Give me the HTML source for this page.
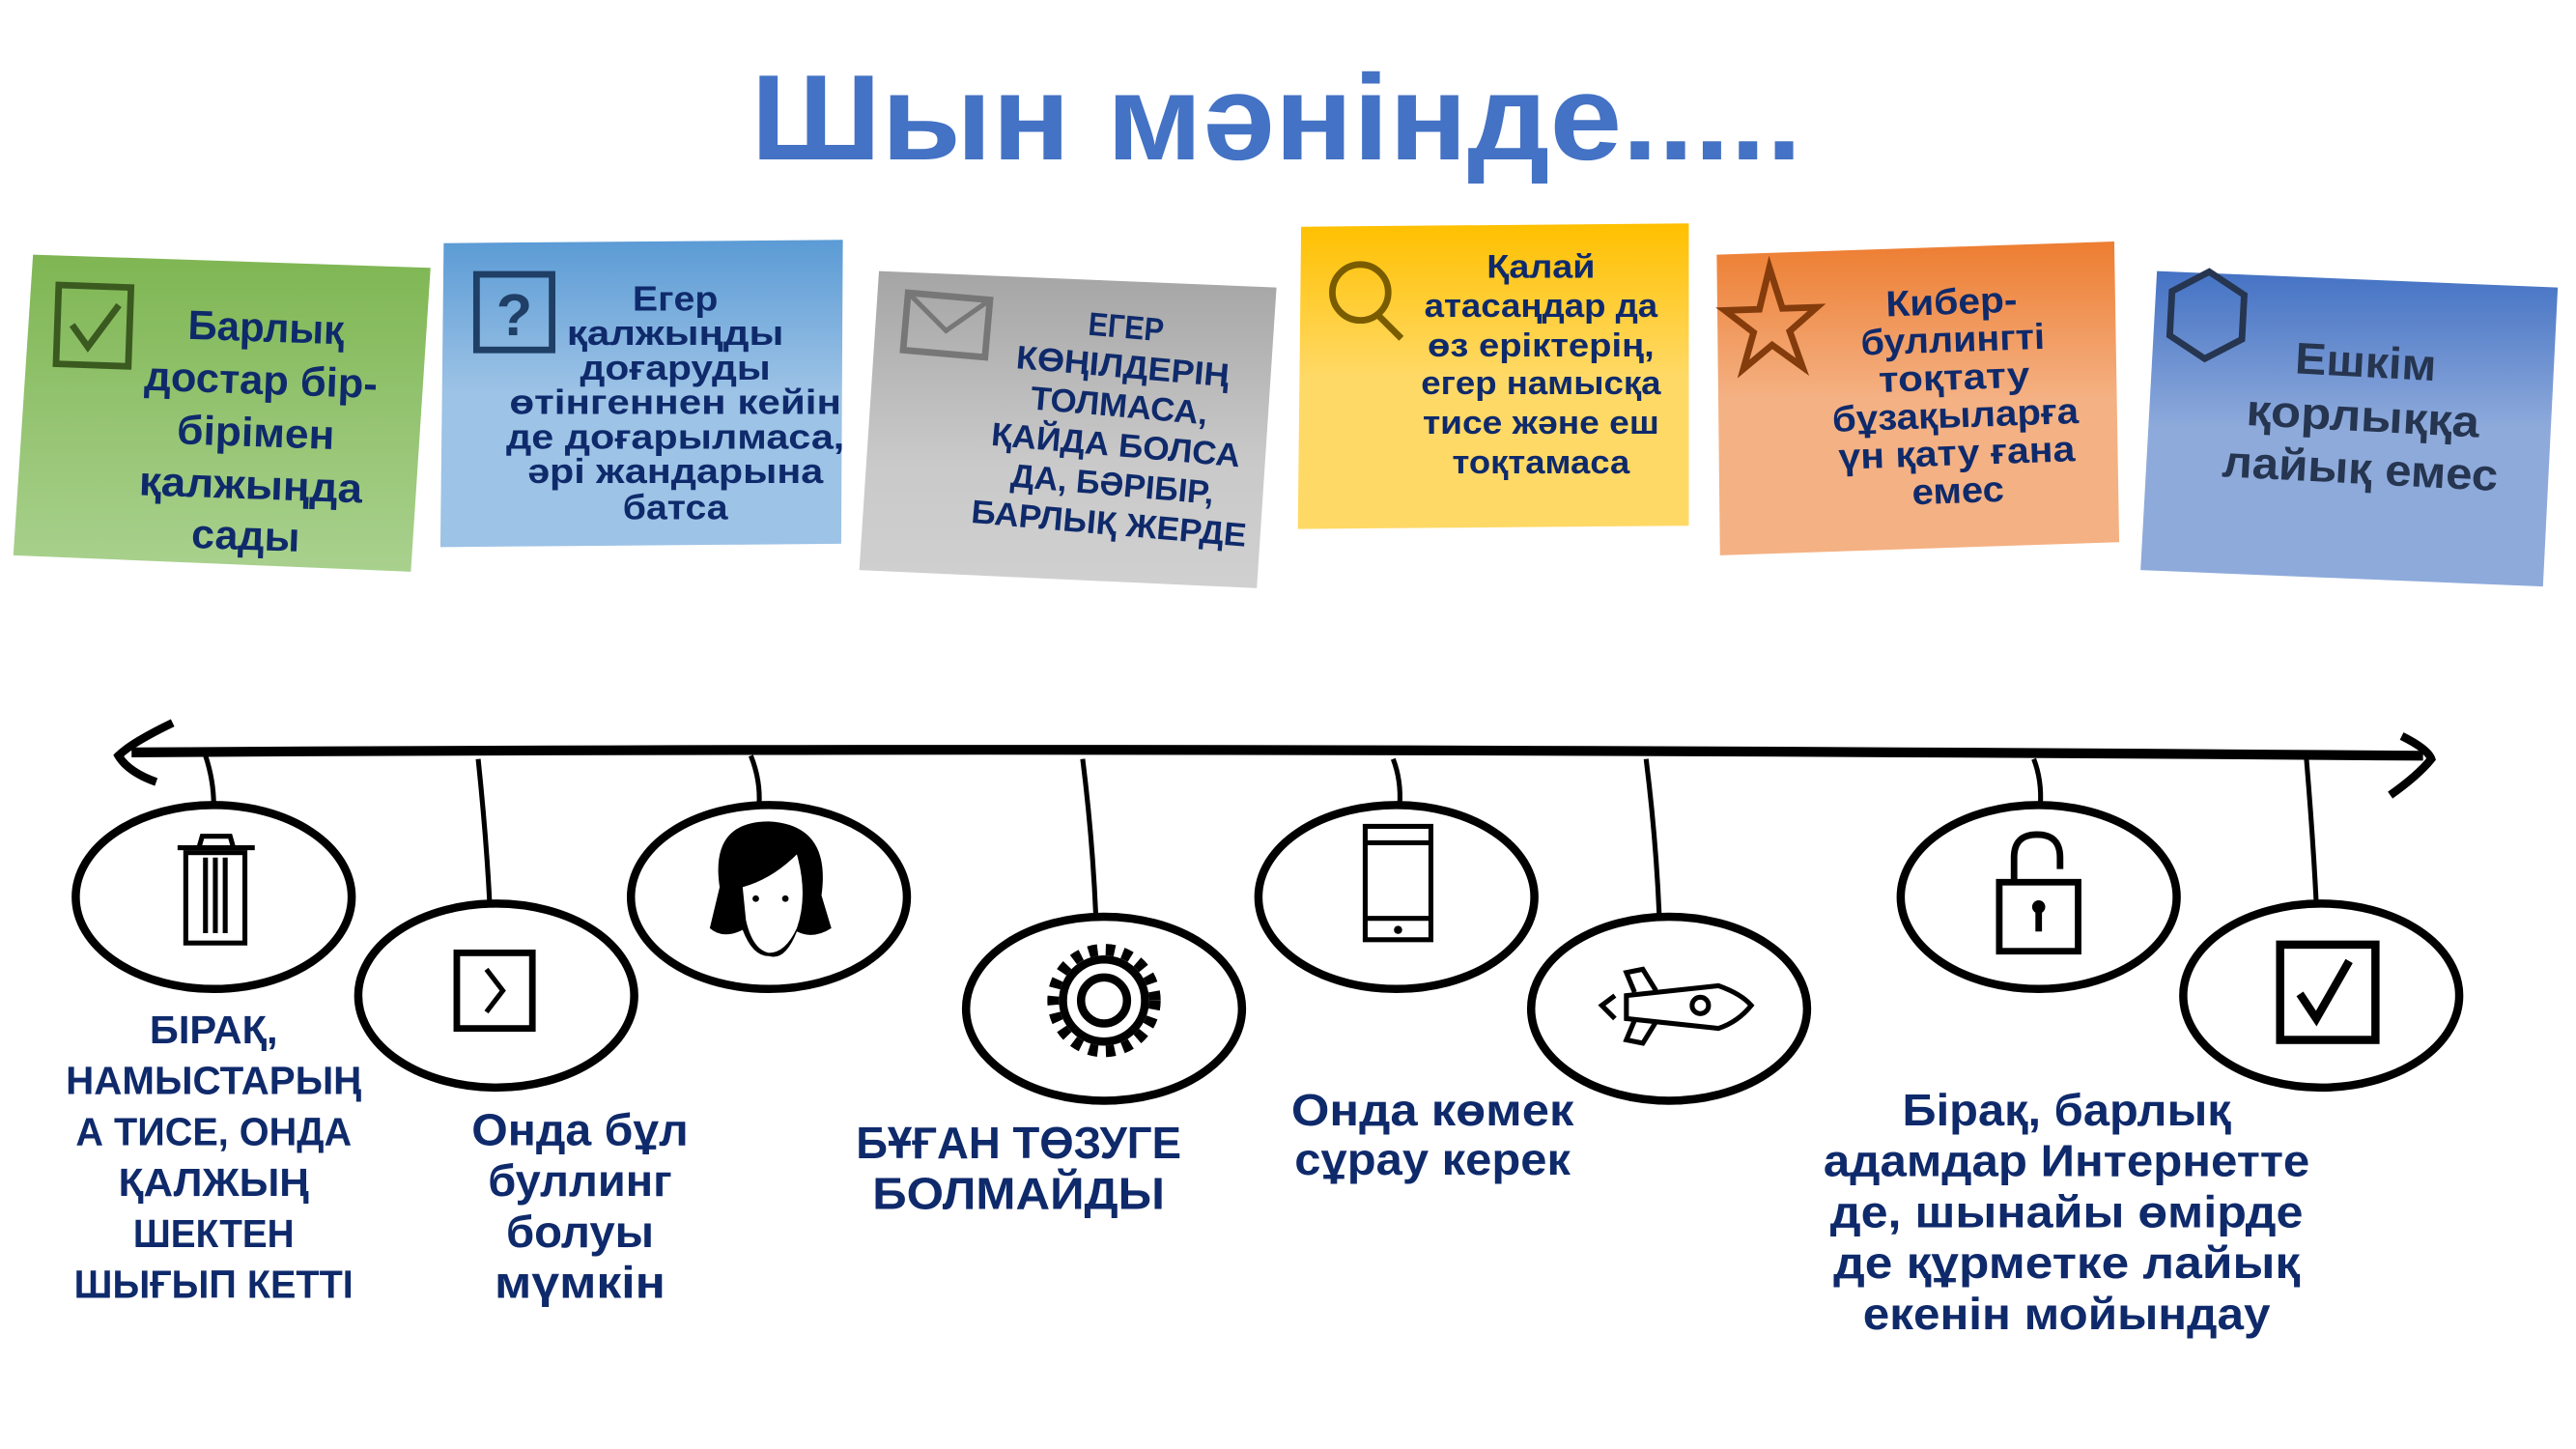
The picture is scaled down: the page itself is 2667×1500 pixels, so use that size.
<!DOCTYPE html>
<html><head><meta charset="utf-8"><style>
html,body{margin:0;padding:0;background:#fff;}
svg{display:block;}
text{font-family:"Liberation Sans","DejaVu Sans",sans-serif;font-weight:bold;text-anchor:middle;}
.n{fill:#0f2a6b;}
</style></head><body>
<svg width="2667" height="1500" viewBox="0 0 1568 882" xmlns="http://www.w3.org/2000/svg">
<defs>
<linearGradient id="g1" x1="0" y1="0" x2="0" y2="1"><stop offset="0" stop-color="#7fb653"/><stop offset="1" stop-color="#a9d18e"/></linearGradient>
<linearGradient id="g2" x1="0" y1="0" x2="0" y2="1"><stop offset="0" stop-color="#5b9bd5"/><stop offset="0.5" stop-color="#9dc3e6"/><stop offset="1" stop-color="#9dc3e6"/></linearGradient>
<linearGradient id="g3" x1="0" y1="0" x2="0" y2="1"><stop offset="0" stop-color="#a5a5a5"/><stop offset="0.6" stop-color="#c9c9c9"/><stop offset="1" stop-color="#d0d0d0"/></linearGradient>
<linearGradient id="g4" x1="0" y1="0" x2="0" y2="1"><stop offset="0" stop-color="#ffc000"/><stop offset="0.5" stop-color="#ffd966"/><stop offset="1" stop-color="#ffd966"/></linearGradient>
<linearGradient id="g5" x1="0" y1="0" x2="0" y2="1"><stop offset="0" stop-color="#ed7d31"/><stop offset="0.5" stop-color="#f4b183"/><stop offset="1" stop-color="#f4b183"/></linearGradient>
<linearGradient id="g6" x1="0" y1="0" x2="0" y2="1"><stop offset="0" stop-color="#4472c4"/><stop offset="0.5" stop-color="#8eaadb"/><stop offset="1" stop-color="#8eaadb"/></linearGradient>
</defs>

<text x="777" y="97" font-size="74" fill="#4472c4" textLength="640" lengthAdjust="spacingAndGlyphs">Шын мәнінде.....</text>

<polygon points="20,155 262,163 250,348 8,338" fill="url(#g1)"/>
<g transform="rotate(2 135 252)">
<rect x="33" y="177" width="44" height="48" fill="none" stroke="#3a5a20" stroke-width="4"/>
<polyline points="42,201 52,214 70,188" fill="none" stroke="#3a5a20" stroke-width="4"/>
<g class="n" font-size="25">
<text x="160" y="207" textLength="95" lengthAdjust="spacingAndGlyphs">Барлық</text>
<text x="158" y="239" textLength="142" lengthAdjust="spacingAndGlyphs">достар бір-</text>
<text x="156" y="271" textLength="96" lengthAdjust="spacingAndGlyphs">бірімен</text>
<text x="154" y="303" textLength="136" lengthAdjust="spacingAndGlyphs">қалжыңда</text>
<text x="152" y="334" textLength="66" lengthAdjust="spacingAndGlyphs">сады</text>
</g></g>

<polygon points="270,148 513,146 512,331 268,333" fill="url(#g2)"/>
<rect x="290" y="167" width="46" height="46" fill="none" stroke="#1f3f66" stroke-width="4"/>
<text x="313" y="204" font-size="36" fill="#1f3f66">?</text>
<g class="n" font-size="21">
<text x="411" y="189" textLength="52" lengthAdjust="spacingAndGlyphs">Егер</text>
<text x="411" y="210" textLength="132" lengthAdjust="spacingAndGlyphs">қалжыңды</text>
<text x="411" y="231" textLength="116" lengthAdjust="spacingAndGlyphs">доғаруды</text>
<text x="411" y="252" textLength="202" lengthAdjust="spacingAndGlyphs">өтінгеннен кейін</text>
<text x="411" y="273" textLength="206" lengthAdjust="spacingAndGlyphs">де доғарылмаса,</text>
<text x="411" y="294" textLength="180" lengthAdjust="spacingAndGlyphs">әрі жандарына</text>
<text x="411" y="316" textLength="64" lengthAdjust="spacingAndGlyphs">батса</text>
</g>

<polygon points="535,165 777,175 765,358 523,347" fill="url(#g3)"/>
<g transform="rotate(5 650 260)">
<rect x="546" y="187" width="50" height="35" fill="none" stroke="#777" stroke-width="4"/>
<polyline points="546,187 571,208 596,187" fill="none" stroke="#777" stroke-width="3"/>
<g class="n" font-size="20">
<text x="680" y="203" textLength="46" lengthAdjust="spacingAndGlyphs">ЕГЕР</text>
<text x="680" y="227" textLength="130" lengthAdjust="spacingAndGlyphs">КӨҢІЛДЕРІҢ</text>
<text x="680" y="251" textLength="108" lengthAdjust="spacingAndGlyphs">ТОЛМАСА,</text>
<text x="680" y="275" textLength="152" lengthAdjust="spacingAndGlyphs">ҚАЙДА БОЛСА</text>
<text x="680" y="299" textLength="124" lengthAdjust="spacingAndGlyphs">ДА, БӘРІБІР,</text>
<text x="680" y="323" textLength="168" lengthAdjust="spacingAndGlyphs">БАРЛЫҚ ЖЕРДЕ</text>
</g></g>

<polygon points="792,138 1028,136 1028,320 790,322" fill="url(#g4)"/>
<circle cx="828" cy="178" r="17" fill="none" stroke="#7a5c00" stroke-width="4"/>
<line x1="839" y1="192" x2="853" y2="206" stroke="#7a5c00" stroke-width="4"/>
<g class="n" font-size="20">
<text x="938" y="169" textLength="66" lengthAdjust="spacingAndGlyphs">Қалай</text>
<text x="938" y="193" textLength="142" lengthAdjust="spacingAndGlyphs">атасаңдар да</text>
<text x="938" y="217" textLength="138" lengthAdjust="spacingAndGlyphs">өз еріктерің,</text>
<text x="938" y="240" textLength="146" lengthAdjust="spacingAndGlyphs">егер намысқа</text>
<text x="938" y="264" textLength="144" lengthAdjust="spacingAndGlyphs">тисе және еш</text>
<text x="938" y="288" textLength="108" lengthAdjust="spacingAndGlyphs">тоқтамаса</text>
</g>

<polygon points="1045,155 1287,147 1290,330 1047,338" fill="url(#g5)"/>
<g transform="rotate(-2 1165 245)">
<polygon points="1080,160 1087,185 1108,185 1091,199 1098,221 1080,207 1062,221 1069,199 1052,185 1073,185" fill="none" stroke="#843c0c" stroke-width="4"/>
<g class="n" font-size="22">
<text x="1190" y="192" textLength="80" lengthAdjust="spacingAndGlyphs">Кибер-</text>
<text x="1190" y="215" textLength="112" lengthAdjust="spacingAndGlyphs">буллингті</text>
<text x="1190" y="238" textLength="92" lengthAdjust="spacingAndGlyphs">тоқтату</text>
<text x="1190" y="261" textLength="150" lengthAdjust="spacingAndGlyphs">бұзақыларға</text>
<text x="1190" y="284" textLength="144" lengthAdjust="spacingAndGlyphs">үн қату ғана</text>
<text x="1190" y="307" textLength="56" lengthAdjust="spacingAndGlyphs">емес</text>
</g></g>

<polygon points="1313,165 1557,175 1548,357 1303,347" fill="url(#g6)"/>
<g transform="rotate(3 1430 260)">
<polygon points="1340,170 1362,183 1362,210 1340,223 1318,210 1318,183" fill="none" stroke="#263550" stroke-width="4"/>
<g fill="#263550" font-size="27">
<text x="1438" y="229" textLength="86" lengthAdjust="spacingAndGlyphs">Ешкім</text>
<text x="1438" y="262" textLength="142" lengthAdjust="spacingAndGlyphs">қорлыққа</text>
<text x="1438" y="294" textLength="168" lengthAdjust="spacingAndGlyphs">лайық емес</text>
</g></g>

<path d="M80,458 Q700,454 1475,460" fill="none" stroke="#000" stroke-width="6"/>
<path d="M105,440 Q80,452 72,460 Q78,470 95,476" fill="none" stroke="#000" stroke-width="5"/>
<path d="M1462,448 Q1478,456 1480,462 Q1472,472 1455,484" fill="none" stroke="#000" stroke-width="5"/>

<g fill="none" stroke="#000" stroke-width="3">
<path d="M125,460 Q130,475 130,490"/>
<path d="M291,462 Q296,510 298,550"/>
<path d="M457,460 Q463,475 462,490"/>
<path d="M659,462 Q665,510 667,557"/>
<path d="M848,462 Q853,475 852,490"/>
<path d="M1002,462 Q1008,510 1010,557"/>
<path d="M1238,462 Q1243,475 1242,490"/>
<path d="M1404,462 Q1408,510 1410,550"/>
</g>
<g fill="none" stroke="#000" stroke-width="5">
<ellipse cx="130" cy="546" rx="84" ry="56"/>
<ellipse cx="302" cy="606" rx="84" ry="56"/>
<ellipse cx="468" cy="546" rx="84" ry="56"/>
<ellipse cx="672" cy="614" rx="84" ry="56"/>
<ellipse cx="850" cy="546" rx="84" ry="56"/>
<ellipse cx="1016" cy="614" rx="84" ry="56"/>
<ellipse cx="1241" cy="546" rx="84" ry="56"/>
<ellipse cx="1413" cy="606" rx="84" ry="56"/>
</g>

<g fill="none" stroke="#000" stroke-width="3">
<rect x="113" y="519" width="36" height="55"/>
<line x1="108" y1="516" x2="155" y2="516"/>
<path d="M121,516 L123,509 L140,509 L142,516"/>
<line x1="125" y1="522" x2="125" y2="568"/><line x1="131" y1="522" x2="131" y2="568"/><line x1="137" y1="522" x2="137" y2="568"/>
<rect x="278" y="580" width="46" height="46" stroke-width="4"/>
<polyline points="296,590 306,603 296,616"/>
<rect x="831" y="503" width="40" height="69"/>
<line x1="831" y1="513" x2="871" y2="513"/><line x1="831" y1="559" x2="871" y2="559"/>
<circle cx="672" cy="609" r="31" stroke-width="7" stroke-dasharray="5.5 5"/>
<circle cx="672" cy="609" r="25" stroke-width="5"/>
<circle cx="672" cy="609" r="14" stroke-width="5"/>
<path d="M990,606 L1046,600 Q1060,605 1066,612 Q1058,622 1046,626 L990,620 Z"/>
<circle cx="1035" cy="612" r="5"/>
<path d="M995,604 L990,592 L1000,590 L1008,603 M995,621 L990,633 L1000,635 L1008,622 M983,606 L975,612 L983,620"/>
<rect x="1217" y="537" width="48" height="42" stroke-width="4"/>
<path d="M1226,537 L1226,522 Q1226,508 1240,508 Q1254,508 1254,522 L1254,529" stroke-width="4"/>
<line x1="1241" y1="553" x2="1241" y2="567" stroke-width="4"/>
<rect x="1388" y="575" width="58" height="58" stroke-width="5"/>
<polyline points="1400,605 1410,620 1430,585" stroke-width="5"/>
</g>
<circle cx="1241" cy="552" r="4" fill="#000"/>
<circle cx="851" cy="566" r="2.5" fill="#000"/>
<path d="M438,540 Q432,500 468,500 Q506,502 500,545 L506,565 Q495,572 485,567 Q478,585 468,582 Q458,582 452,566 Q440,572 432,565 Z" fill="#000"/>
<path d="M452,540 Q470,535 485,520 Q492,545 485,565 Q478,580 468,580 Q458,578 454,560 Z" fill="#fff"/>
<circle cx="460" cy="547" r="2" fill="#000"/><circle cx="478" cy="547" r="2" fill="#000"/>

<g class="n" font-size="24">
<text x="130" y="635" textLength="78" lengthAdjust="spacingAndGlyphs">БІРАҚ,</text>
<text x="130" y="666" textLength="180" lengthAdjust="spacingAndGlyphs">НАМЫСТАРЫҢ</text>
<text x="130" y="697" textLength="168" lengthAdjust="spacingAndGlyphs">А ТИСЕ, ОНДА</text>
<text x="130" y="728" textLength="116" lengthAdjust="spacingAndGlyphs">ҚАЛЖЫҢ</text>
<text x="130" y="759" textLength="98" lengthAdjust="spacingAndGlyphs">ШЕКТЕН</text>
<text x="130" y="790" textLength="170" lengthAdjust="spacingAndGlyphs">ШЫҒЫП КЕТТІ</text>
</g>
<g class="n" font-size="27">
<text x="353" y="697" textLength="132" lengthAdjust="spacingAndGlyphs">Онда бұл</text>
<text x="353" y="728" textLength="112" lengthAdjust="spacingAndGlyphs">буллинг</text>
<text x="353" y="759" textLength="90" lengthAdjust="spacingAndGlyphs">болуы</text>
<text x="353" y="790" textLength="104" lengthAdjust="spacingAndGlyphs">мүмкін</text>
<text x="620" y="705" textLength="198" lengthAdjust="spacingAndGlyphs">БҰҒАН ТӨЗУГЕ</text>
<text x="620" y="736" textLength="178" lengthAdjust="spacingAndGlyphs">БОЛМАЙДЫ</text>
<text x="872" y="685" textLength="172" lengthAdjust="spacingAndGlyphs">Онда көмек</text>
<text x="872" y="715" textLength="168" lengthAdjust="spacingAndGlyphs">сұрау керек</text>
<text x="1258" y="685" textLength="200" lengthAdjust="spacingAndGlyphs">Бірақ, барлық</text>
<text x="1258" y="716" textLength="296" lengthAdjust="spacingAndGlyphs">адамдар Интернетте</text>
<text x="1258" y="747" textLength="288" lengthAdjust="spacingAndGlyphs">де, шынайы өмірде</text>
<text x="1258" y="778" textLength="284" lengthAdjust="spacingAndGlyphs">де құрметке лайық</text>
<text x="1258" y="809" textLength="248" lengthAdjust="spacingAndGlyphs">екенін мойындау</text>
</g>
</svg>
</body></html>
